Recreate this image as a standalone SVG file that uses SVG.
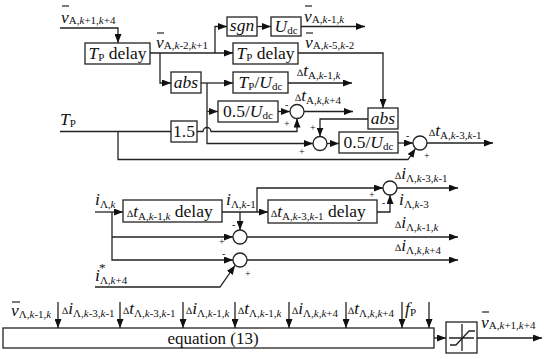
<svg xmlns="http://www.w3.org/2000/svg" width="550" height="359" viewBox="0 0 550 359">
<defs>
<marker id="ah" markerWidth="9" markerHeight="7" refX="9" refY="3.5" orient="auto" markerUnits="userSpaceOnUse"><path d="M0,0 L9,3.5 L0,7 z" fill="#111"/></marker>
<style>
.t{font-family:"Liberation Serif","Times New Roman",serif;fill:#111}
.m{font-size:17.5px}
.s{font-size:11px}
.d{font-size:10px}
.it{font-style:italic}
.c{text-anchor:middle}
.sg{font-size:10px}
.box{fill:#fff;stroke:#222;stroke-width:1.3}
.ln{fill:none;stroke:#222;stroke-width:1.3}
.ar{marker-end:url(#ah)}
.bar{stroke:#222;stroke-width:1.2}
</style>
</defs>
<rect width="550" height="359" fill="#fff"/>

<g id="connectors">
<!-- top section -->
<path class="ln ar" d="M60,28 H118 V43"/>
<path class="ln ar" d="M150,53 H233"/>
<path class="ln ar" d="M215,53 V26.5 H227"/>
<path class="ln ar" d="M257,26.5 H271"/>
<path class="ln ar" d="M301,26.5 H365"/>
<path class="ln ar" d="M298,53 H383 V108"/>
<path class="ln ar" d="M160,53 V83 H171"/>
<path class="ln ar" d="M201,83 H233"/>
<path class="ln ar" d="M288,83 H352"/>
<path class="ln ar" d="M207,83 V143.5 H313"/>
<path class="ln ar" d="M207,111.5 H218"/>
<path class="ln ar" d="M278,111.5 H290"/>
<path class="ln ar" d="M304,111.5 H353"/>
<path class="ln" d="M60,131.5 H171"/>
<path class="ln ar" d="M197,131.5 H203 A4,4 0 0 1 211,131.5 H297 V118.5"/>
<path class="ln ar" d="M368,119 H320 V136.5"/>
<path class="ln ar" d="M327,143.5 H339"/>
<path class="ln ar" d="M398,143 H413"/>
<path class="ln ar" d="M118,131.5 V159.5 H408 L415.5,148.5"/>
<path class="ln ar" d="M427,143 H493"/>
<!-- middle section -->
<path class="ln ar" d="M95,212 H123"/>
<path class="ln ar" d="M222,212 H268"/>
<path class="ln ar" d="M257,212 V188 H383"/>
<path class="ln ar" d="M377,212 H390 V195"/>
<path class="ln ar" d="M397,188 H458"/>
<path class="ln ar" d="M240,212 V230"/>
<path class="ln ar" d="M112,212 V260 H233"/>
<path class="ln ar" d="M112,237 H233"/>
<path class="ln ar" d="M95,287 H220 L235,265.5"/>
<path class="ln ar" d="M247,237 H458"/>
<path class="ln ar" d="M247,260 H458"/>
<!-- bottom section -->
<path class="ln ar" d="M58,302 V328"/>
<path class="ln ar" d="M120,302 V328"/>
<path class="ln ar" d="M183,302 V328"/>
<path class="ln ar" d="M235,302 V328"/>
<path class="ln ar" d="M289,302 V328"/>
<path class="ln ar" d="M346,302 V328"/>
<path class="ln ar" d="M402,302 V328"/>
<path class="ln ar" d="M429,302 V328"/>
<path class="ln ar" d="M434,338 H446"/>
<path class="ln ar" d="M477,338 H542"/>

<!-- labels -->
<line class="bar" x1="62" y1="6" x2="69" y2="6"/>
<text class="t" x="61" y="23"><tspan class="m it">v</tspan><tspan class="s" dy="1">A,<tspan class="it">k</tspan>+1,<tspan class="it">k</tspan>+4</tspan></text>
<line class="bar" x1="157" y1="33" x2="164" y2="33"/>
<text class="t" x="156" y="48"><tspan class="m it">v</tspan><tspan class="s" dy="1">A,<tspan class="it">k</tspan>-2,<tspan class="it">k</tspan>+1</tspan></text>
<line class="bar" x1="305" y1="6" x2="312" y2="6"/>
<text class="t" x="304" y="22"><tspan class="m it">v</tspan><tspan class="s" dy="1">A,<tspan class="it">k</tspan>-1,<tspan class="it">k</tspan></tspan></text>
<line class="bar" x1="306" y1="33" x2="313" y2="33"/>
<text class="t" x="305" y="48"><tspan class="m it">v</tspan><tspan class="s" dy="1">A,<tspan class="it">k</tspan>-5,<tspan class="it">k</tspan>-2</tspan></text>
<text class="t" x="297" y="76"><tspan class="d">∆</tspan><tspan class="m it">t</tspan><tspan class="s" dy="3">A,<tspan class="it">k</tspan>-1,<tspan class="it">k</tspan></tspan></text>
<text class="t" x="295" y="101"><tspan class="d">∆</tspan><tspan class="m it">t</tspan><tspan class="s" dy="3">A,<tspan class="it">k</tspan>,<tspan class="it">k</tspan>+4</tspan></text>
<text class="t" x="429" y="136"><tspan class="d">∆</tspan><tspan class="m it">t</tspan><tspan class="s" dy="3">A,<tspan class="it">k</tspan>-3,<tspan class="it">k</tspan>-1</tspan></text>
<text class="t" x="60" y="125"><tspan class="m it">T</tspan><tspan class="s" dy="2">P</tspan></text>
<text class="t sg" x="285" y="108">-</text>
<text class="t sg" x="284" y="127">+</text>
<text class="t sg" x="310" y="131">+</text>
<text class="t sg" x="299" y="155">+</text>
<text class="t sg" x="406" y="139">-</text>
<text class="t sg" x="424" y="159">+</text>

<text class="t" x="95" y="205"><tspan class="m it">i</tspan><tspan class="s" dy="3">Λ,<tspan class="it">k</tspan></tspan></text>
<text class="t" x="226" y="205"><tspan class="m it">i</tspan><tspan class="s" dy="3">Λ,<tspan class="it">k</tspan>-1</tspan></text>
<text class="t" x="395" y="179"><tspan class="d">∆</tspan><tspan class="m it">i</tspan><tspan class="s" dy="3">Λ,<tspan class="it">k</tspan>-3,<tspan class="it">k</tspan>-1</tspan></text>
<text class="t" x="399" y="205"><tspan class="m it">i</tspan><tspan class="s" dy="3">Λ,<tspan class="it">k</tspan>-3</tspan></text>
<text class="t" x="395" y="228"><tspan class="d">∆</tspan><tspan class="m it">i</tspan><tspan class="s" dy="3">Λ,<tspan class="it">k</tspan>-1,<tspan class="it">k</tspan></tspan></text>
<text class="t" x="395" y="251"><tspan class="d">∆</tspan><tspan class="m it">i</tspan><tspan class="s" dy="3">Λ,<tspan class="it">k</tspan>,<tspan class="it">k</tspan>+4</tspan></text>
<text class="t" x="95" y="281"><tspan class="m it">i</tspan><tspan class="s" dy="3">Λ,<tspan class="it">k</tspan>+4</tspan></text>
<text class="t" x="99" y="272" style="font-size:13px">*</text>
<text class="t sg" x="369" y="198">+</text>
<text class="t sg" x="382" y="206">-</text>
<text class="t sg" x="232" y="228">-</text>
<text class="t sg" x="219" y="245">+</text>
<text class="t sg" x="222" y="257">-</text>
<text class="t sg" x="245" y="277">+</text>

<line class="bar" x1="12" y1="302" x2="20" y2="302"/>
<text class="t" x="11" y="316"><tspan class="m it">v</tspan><tspan class="s" dy="2">Λ,<tspan class="it">k</tspan>-1,<tspan class="it">k</tspan></tspan></text>
<text class="t" x="62" y="314"><tspan class="d">∆</tspan><tspan class="m it">i</tspan><tspan class="s" dy="3">Λ,<tspan class="it">k</tspan>-3,<tspan class="it">k</tspan>-1</tspan></text>
<text class="t" x="123" y="314"><tspan class="d">∆</tspan><tspan class="m it">t</tspan><tspan class="s" dy="3">Λ,<tspan class="it">k</tspan>-3,<tspan class="it">k</tspan>-1</tspan></text>
<text class="t" x="186" y="314"><tspan class="d">∆</tspan><tspan class="m it">i</tspan><tspan class="s" dy="3">Λ,<tspan class="it">k</tspan>-1,<tspan class="it">k</tspan></tspan></text>
<text class="t" x="238" y="314"><tspan class="d">∆</tspan><tspan class="m it">t</tspan><tspan class="s" dy="3">Λ,<tspan class="it">k</tspan>-1,<tspan class="it">k</tspan></tspan></text>
<text class="t" x="292" y="314"><tspan class="d">∆</tspan><tspan class="m it">i</tspan><tspan class="s" dy="3">Λ,<tspan class="it">k</tspan>,<tspan class="it">k</tspan>+4</tspan></text>
<text class="t" x="348" y="314"><tspan class="d">∆</tspan><tspan class="m it">t</tspan><tspan class="s" dy="3">Λ,<tspan class="it">k</tspan>,<tspan class="it">k</tspan>+4</tspan></text>
<text class="t" x="405" y="314"><tspan class="m it">f</tspan><tspan class="s" dy="2">P</tspan></text>
<line class="bar" x1="482" y1="312" x2="489" y2="312"/>
<text class="t" x="481" y="328"><tspan class="m it">v</tspan><tspan class="s" dy="1">A,<tspan class="it">k</tspan>+1,<tspan class="it">k</tspan>+4</tspan></text>
</g>

<g id="tpdelay1"><rect class="box" x="85" y="43" width="65" height="21"/>
<text class="t c" x="117.5" y="59"><tspan class="m it">T</tspan><tspan class="s" dy="2">P</tspan><tspan class="m" dy="-2"> delay</tspan></text></g>
<g id="sgn"><rect class="box" x="227" y="17" width="30" height="19"/>
<text class="t c m it" x="242" y="31">sgn</text></g>
<g id="udc1"><rect class="box" x="271" y="17" width="30" height="19"/>
<text class="t c" x="286" y="32"><tspan class="m it">U</tspan><tspan class="s" dy="2">dc</tspan></text></g>
<g id="tpdelay2"><rect class="box" x="233" y="43" width="65" height="21"/>
<text class="t c" x="265.5" y="59"><tspan class="m it">T</tspan><tspan class="s" dy="2">P</tspan><tspan class="m" dy="-2"> delay</tspan></text></g>
<g id="abs1"><rect class="box" x="171" y="72" width="30" height="21"/>
<text class="t c m it" x="186" y="88">abs</text></g>
<g id="tpudc"><rect class="box" x="233" y="72" width="55" height="21"/>
<text class="t c" x="260.5" y="88"><tspan class="m it">T</tspan><tspan class="s" dy="2">P</tspan><tspan class="m" dy="-2">/</tspan><tspan class="m it">U</tspan><tspan class="s" dy="2">dc</tspan></text></g>
<g id="half1"><rect class="box" x="218" y="101" width="60" height="21"/>
<text class="t c" x="248" y="117"><tspan class="m">0.5/</tspan><tspan class="m it">U</tspan><tspan class="s" dy="2">dc</tspan></text></g>
<g id="sum1"><circle class="box" cx="297" cy="111.5" r="7"/></g>
<g id="gain15"><rect class="box" x="171" y="121" width="26" height="21"/>
<text class="t c m" x="184" y="137">1.5</text></g>
<g id="abs2"><rect class="box" x="368" y="108" width="30" height="21"/>
<text class="t c m it" x="383" y="124">abs</text></g>
<g id="sum2"><circle class="box" cx="320" cy="143.5" r="7"/></g>
<g id="half2"><rect class="box" x="339" y="132" width="59" height="21"/>
<text class="t c" x="368.5" y="148"><tspan class="m">0.5/</tspan><tspan class="m it">U</tspan><tspan class="s" dy="2">dc</tspan></text></g>
<g id="sum3"><circle class="box" cx="420" cy="143" r="7"/></g>

<g id="delay1"><rect class="box" x="123" y="200" width="99" height="22"/>
<text class="t" x="127" y="217"><tspan class="d">∆</tspan><tspan class="m it">t</tspan><tspan class="s" dy="3">A,<tspan class="it">k</tspan>-1,<tspan class="it">k</tspan></tspan><tspan class="m" dy="-3"> delay</tspan></text></g>
<g id="delay2"><rect class="box" x="268" y="200" width="109" height="23"/>
<text class="t" x="271" y="217"><tspan class="d">∆</tspan><tspan class="m it">t</tspan><tspan class="s" dy="3">A,<tspan class="it">k</tspan>-3,<tspan class="it">k</tspan>-1</tspan><tspan class="m" dy="-3"> delay</tspan></text></g>
<g id="sum6"><circle class="box" cx="390" cy="188" r="7"/></g>
<g id="sum4"><circle class="box" cx="240" cy="237" r="7"/></g>
<g id="sum5"><circle class="box" cx="240" cy="260" r="7"/></g>

<g id="equation"><rect class="box" x="3" y="328" width="431" height="20"/>
<text class="t c" x="213" y="344" style="font-size:17px">equation (13)</text></g>
<g id="saturation"><rect class="box" x="446" y="322" width="31" height="31"/>
<path class="ln" d="M462,324 V351 M449,338 H474"/>
<path class="ln" d="M450,345 H456 L469,331 H475"/></g>
</svg>
